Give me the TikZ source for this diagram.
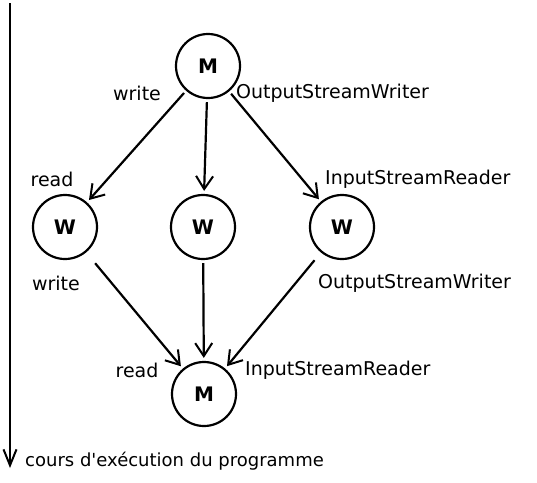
\documentclass[tikz,border=0pt]{standalone}
\usepackage{fontspec}
\setmainfont{DejaVu Sans}
\usetikzlibrary{arrows.meta}

\begin{document}
\begin{tikzpicture}[x=1pt,y=-1pt,
		proc/.style={draw,circle,line width=2.2pt,minimum size=64pt,inner sep=0pt,font=\fontsize{20}{22}\selectfont\bfseries},
		lab/.style={font=\fontsize{19}{20}\selectfont,inner sep=0pt},
		flow/.style={line width=2.2pt,-{Straight Barb[length=13pt,width=17pt,line width=2pt]},shorten <=3pt,shorten >=3pt}]
				\useasboundingbox (0,0) rectangle (537,482);
				% processes
				\node[proc] (mtop) at (208,66) {M};
				\node[proc] (wleft) at (65,227) {W};
				\node[proc] (wmid) at (203,227) {W};
				\node[proc] (wright) at (342,227) {W};
				\node[proc] (mbot) at (204,394) {M};
				% fork
				\draw[flow] (mtop) -- (wleft);
				\draw[flow] (mtop) -- (wmid);
				\draw[flow] (mtop) -- (wright);
				% join
				\draw[flow,shorten <=14pt] (wleft) -- (mbot);
				\draw[flow] (wmid) -- (mbot);
				\draw[flow,shorten <=10pt] (wright) -- (mbot);
				% streams
				\node[lab] (wr1) at (137,93) {write};
				\node[lab,anchor=west] (osw1) at (236,93) {OutputStreamWriter};
				\node[lab] (rd1) at (52,179) {read};
				\node[lab,anchor=west] (isr1) at (325,179) {InputStreamReader};
				\node[lab] (wr2) at (56,283) {write};
				\node[lab,anchor=west] (osw2) at (318,283) {OutputStreamWriter};
				\node[lab] (rd2) at (137,370) {read};
				\node[lab,anchor=west] (isr2) at (245,370) {InputStreamReader};
				% time axis
				\coordinate (tstart) at (10,3);
				\coordinate (tend) at (10,468);
				\draw[line width=2.2pt,-{Straight Barb[length=16pt,width=13pt,line width=2pt]}] (tstart) -- (tend);
				\node[lab,anchor=west,font=\fontsize{18}{20}\selectfont] (tlab) at (25,461) {cours d\textquotesingle exécution du programme};
\end{tikzpicture}
\end{document}
